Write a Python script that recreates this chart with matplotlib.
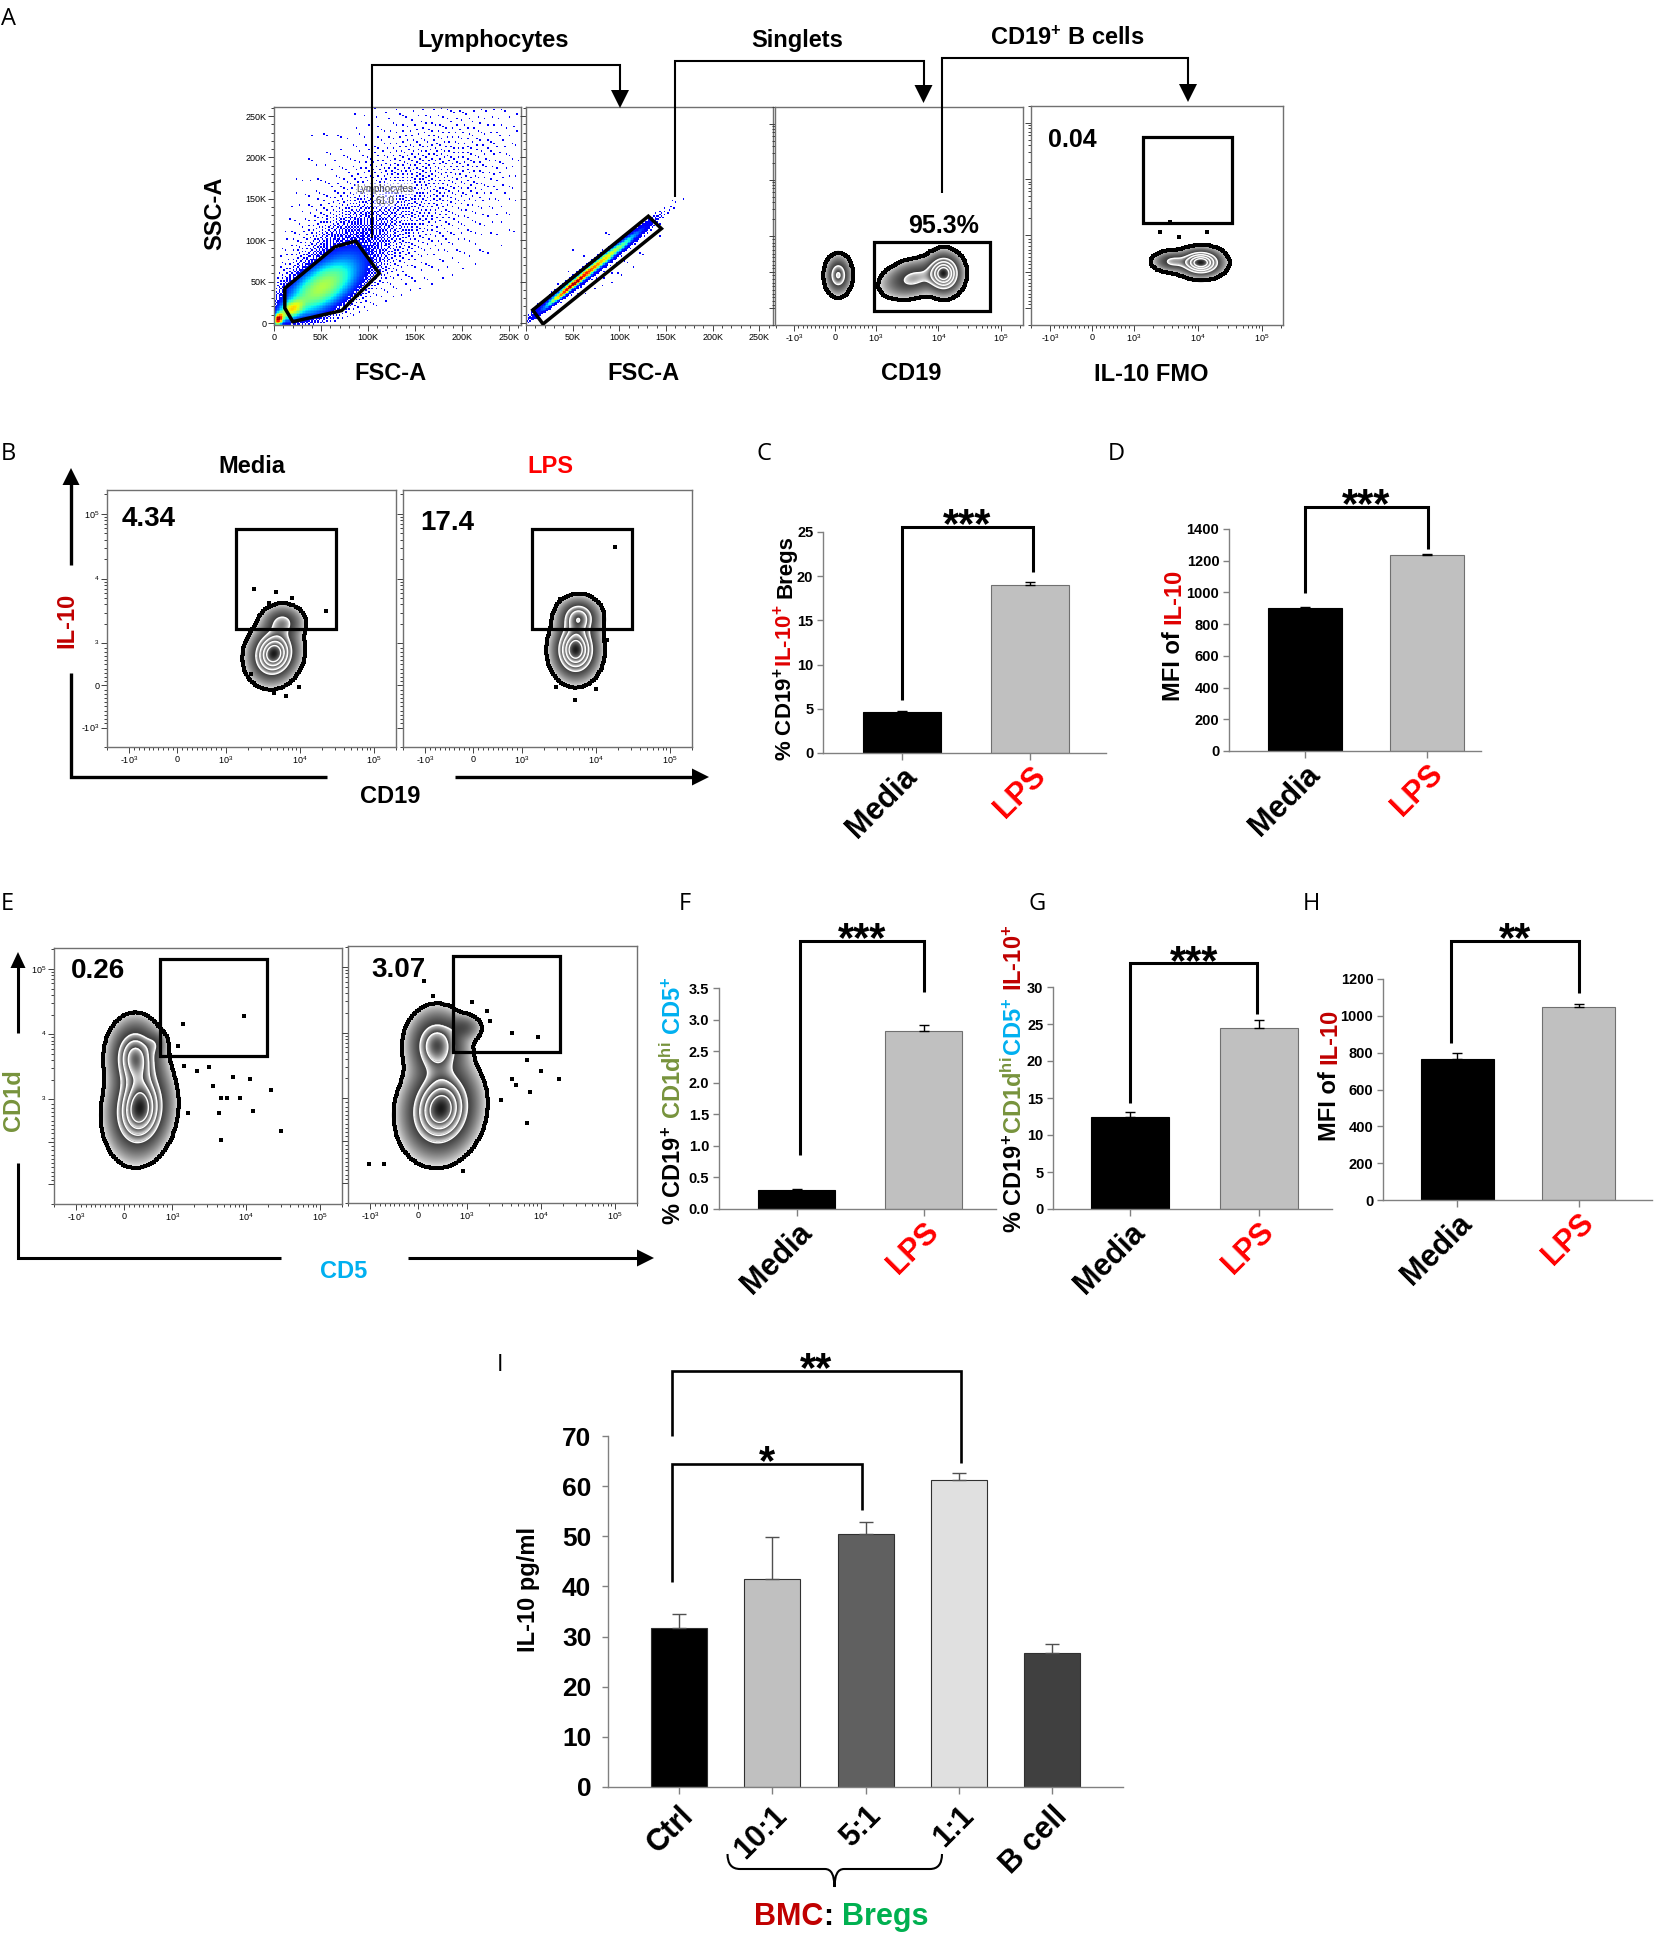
import numpy as np
import matplotlib
matplotlib.use('Agg')
import matplotlib.pyplot as plt
from matplotlib import font_manager as fm
from matplotlib.lines import Line2D
from matplotlib.patches import Polygon, Rectangle, PathPatch
from matplotlib.path import Path
from matplotlib.transforms import IdentityTransform, ScaledTranslation

W, H, DPI = 1654, 1943, 100

_names = {f.name for f in fm.fontManager.ttflist}
SANS = 'Liberation Sans' if 'Liberation Sans' in _names else 'DejaVu Sans'
NARROW = 'Liberation Sans Narrow' if 'Liberation Sans Narrow' in _names else SANS
LETTER = 'Open Sans' if 'Open Sans' in _names else SANS

plt.rcParams['font.family'] = [SANS, 'DejaVu Sans']
plt.rcParams['mathtext.fontset'] = 'custom'
plt.rcParams['mathtext.rm'] = SANS
plt.rcParams['mathtext.it'] = SANS + ':italic'
plt.rcParams['mathtext.bf'] = SANS + ':bold'

RED_LPS = '#ff0000'
RED_IL = '#e00000'
DARKRED = '#c00000'
GREEN = '#77933c'
CYAN = '#00b0f0'
GREEN_B = '#00b050'

# ======================= DATA =======================
# Bar panels
groups_2 = ['Media', 'LPS']
c_values = [4.6, 19.0]          # % CD19+IL-10+ Bregs
c_errors = [0.15, 0.3]
d_values = [902, 1236]          # MFI of IL-10
d_errors = [8, 6]
f_values = [0.30, 2.82]         # % CD19+ CD1dhi CD5+
f_errors = [0.02, 0.09]
g_values = [12.5, 24.5]         # % CD19+CD1dhiCD5+ IL-10+
g_errors = [0.6, 1.0]
h_values = [767, 1050]          # MFI of IL-10
h_errors = [33, 13]
i_groups = ['Ctrl', '10:1', '5:1', '1:1', 'B cell']
i_values = [31.7, 41.5, 50.4, 61.2, 26.8]   # IL-10 pg/ml
i_errors = [2.9, 8.4, 2.4, 1.5, 1.8]

# Gate frequencies
a_lymph_pct = '61.0'
a_cd19_pct = '95.3%'
a_fmo_pct = '0.04'
b_pcts = ['4.34', '17.4']
e_pcts = ['0.26', '3.07']

# Scatter populations, FSC/SSC in K units: (cx, cy, sx, sy, rho, weight)
a1_pops = [(4, 4, 3, 4, 0.3, 3.0), (18, 16, 8, 7, 0.5, 1.2), (50, 42, 22, 20, 0.6, 1.0),
           (75, 80, 35, 40, 0.55, 0.10), (150, 160, 65, 65, 0.4, 0.025)]
a2_pops = [(72, 67, 28, 25, 0.985, 1.0), (45, 41, 15, 14, 0.985, 0.9),
           (105, 96, 12, 11, 0.98, 0.1), (80, 62, 35, 30, 0.7, 0.004)]
a1_gate_fsc = [11.5, 64.8, 87, 112, 72, 20, 11.5]
a1_gate_ssc = [41.9, 92, 99, 60, 15, 1.6, 18]
a2_gate_fsc = [7.2, 131, 145, 18.2]
a2_gate_ssc = [15.7, 129, 114, -1.2]

# Fluorescence populations in biexponential display units: (cx, cy, sx, sy, rho, weight)
a3_pops = [(0.05, -0.06, 0.10, 0.17, 0.0, 0.55), (1.74, -0.03, 0.14, 0.18, 0.0, 1.0),
           (1.25, -0.12, 0.25, 0.17, 0.3, 0.4)]
a3_gate = (0.62, 2.48, -0.70, 0.54)
a4_pops = [(1.70, 0.16, 0.17, 0.12, 0.0, 1.0), (1.25, 0.18, 0.15, 0.09, 0.0, 0.35)]
a4_gate = (0.80, 2.19, 0.86, 2.39)
a4_out_x = [1.06, 1.36, 1.80, 1.22]
a4_out_y = [0.70, 0.61, 0.70, 0.89]

b1_pops = [(1.30, 0.49, 0.16, 0.21, 0.1, 1.0), (1.42, 0.98, 0.14, 0.13, 0.0, 0.35)]
b2_pops = [(1.38, 0.55, 0.15, 0.22, 0.0, 1.0), (1.42, 1.05, 0.14, 0.15, 0.0, 0.6)]
b_gate = (0.79, 2.14, 0.87, 2.42)
b1_out_x = [1.03, 1.33, 1.55, 2.0, 1.31, 1.46, 0.99, 1.64, 1.72, 1.24]
b1_out_y = [1.49, 1.45, 1.35, 1.15, -0.11, -0.17, 0.17, -0.03, 0.6, 1.27]
b2_out_x = [1.91, 1.37, 1.81, 1.66, 1.11, 1.17]
b2_out_y = [2.14, -0.23, 0.71, -0.05, -0.02, 1.33]

e1_pops = [(0.21, 0.50, 0.20, 0.34, 0.1, 1.0), (0.15, 1.30, 0.17, 0.27, 0.0, 0.75),
           (0.42, 1.5, 0.08, 0.1, 0.0, 0.15)]
e2_pops = [(0.30, 0.48, 0.24, 0.34, 0.1, 1.0), (0.25, 1.45, 0.19, 0.26, 0.0, 0.65),
           (0.62, 1.72, 0.12, 0.1, 0.0, 0.2)]
e1_gate = (0.49, 1.93, 1.32, 2.80)
e2_gate = (0.47, 1.91, 1.36, 2.82)
e1_out_x = [0.80, 1.63, 0.81, 0.98, 1.15, 1.48, 1.70, 1.99, 1.21, 1.31, 1.39, 1.57, 0.86, 1.28, 1.74, 2.12, 1.31, 0.73]
e1_out_y = [1.80, 1.93, 1.17, 1.08, 1.14, 1.00, 0.97, 0.80, 0.85, 0.67, 0.68, 0.68, 0.44, 0.44, 0.47, 0.17, 0.03, 1.47]
e2_out_x = [0.08, 0.20, 0.72, 0.93, 1.26, 1.62, 1.47, 1.65, 1.90, 1.26, 1.32, 1.50, 1.47, 1.11, -0.67, -0.46, 0.60, 0.96]
e2_out_y = [2.44, 2.21, 2.12, 1.98, 1.65, 1.58, 1.23, 1.06, 0.94, 0.94, 0.85, 0.74, 0.27, 0.62, -0.36, -0.36, -0.47, 1.83]

# ======================= HELPERS =======================
fig = plt.figure(figsize=(W / DPI, H / DPI), dpi=DPI)
fig.patch.set_facecolor('white')


def ax_px(x0, y0, x1, y1):
    return fig.add_axes([x0 / W, 1 - y1 / H, (x1 - x0) / W, (y1 - y0) / H])


def P(x, y):
    return (x / W, 1 - y / H)


def ftext(x, y, s, **kw):
    kw.setdefault('ha', 'center')
    kw.setdefault('va', 'baseline')
    return fig.text(x / W, 1 - y / H, s, **kw)


def fline(pts, lw=1.5, color='black'):
    fig.add_artist(Line2D([p[0] / W for p in pts], [1 - p[1] / H for p in pts], lw=lw, color=color,
                          transform=fig.transFigure, solid_joinstyle='miter', solid_capstyle='butt'))


def fhead(x, y, direction, L=17, Wd=17):
    if direction == 'down':
        pts = [(x - Wd / 2, y - L), (x + Wd / 2, y - L), (x, y)]
    elif direction == 'up':
        pts = [(x - Wd / 2, y + L), (x + Wd / 2, y + L), (x, y)]
    else:
        pts = [(x - L, y - Wd / 2), (x - L, y + Wd / 2), (x, y)]
    fig.add_artist(Polygon([P(*p) for p in pts], closed=True, facecolor='black', edgecolor='none',
                           transform=fig.transFigure))


def rich(x, y, pieces, size, rotation=0, weight='bold'):
    """x,y pixel position (from top) of baseline centre."""
    r = fig.canvas.get_renderer()
    items = []
    for s, col in pieces:
        if col is None:
            items.append((None, float(s) * size * DPI / 72.0))
            continue
        t = fig.text(0, 0, s, color=col, fontsize=size, fontweight=weight, rotation=rotation,
                     rotation_mode='anchor', ha='left', va='baseline', transform=IdentityTransform())
        bb = t.get_window_extent(renderer=r)
        items.append((t, bb.height if rotation == 90 else bb.width))
    total = sum(L for _, L in items)
    X, Y = x, H - y
    cur = (Y - total / 2) if rotation == 90 else (X - total / 2)
    for t, L in items:
        if t is not None:
            t.set_position((X, cur) if rotation == 90 else (cur, Y))
        cur += L


def gauss_mix(X, Y, pops):
    Z = np.zeros_like(X)
    for cx, cy, sx, sy, rho, w in pops:
        dx = (X - cx) / sx
        dy = (Y - cy) / sy
        Z += w * np.exp(-(dx * dx - 2 * rho * dx * dy + dy * dy) / (2 * (1 - rho * rho)))
    return Z


LTH, LSC = 1000.0, 0.65


def biex(v):
    v = np.asarray(v, float)
    a = np.abs(v)
    return np.where(a <= LTH, v / LTH * LSC, np.sign(v) * (LSC + np.log10(np.maximum(a, 1e-9) / LTH)))


DEC_MAJOR = [-1e3, 0, 1e3, 1e4, 1e5]
DEC_MINOR = ([-2e3] + list(np.arange(-900, 0, 100)) + list(np.arange(100, 1000, 100)) +
             list(np.arange(2e3, 1e4, 1e3)) + list(np.arange(2e4, 1e5, 1e4)) + [2e5])
BIEX_LABELS = ['-10$^3$', '0', '10$^3$', '10$^4$', '10$^5$']


def flow_axes(rect):
    ax = ax_px(*rect)
    ax.set_facecolor('white')
    for s in ax.spines.values():
        s.set_color('#707070')
        s.set_linewidth(1.0)
    ax.tick_params(which='both', direction='out', color='#404040', width=0.7, labelsize=6.5, pad=1.5)
    ax.tick_params(which='major', length=4)
    ax.tick_params(which='minor', length=2)
    return ax


def biex_axis(ax, axis, labels):
    maj = biex(DEC_MAJOR)
    mnr = biex(DEC_MINOR)
    if axis == 'x':
        ax.set_xticks(maj)
        ax.set_xticks(mnr, minor=True)
        ax.set_xticklabels(labels)
    else:
        ax.set_yticks(maj)
        ax.set_yticks(mnr, minor=True)
        ax.set_yticklabels(labels)


ZLEV = np.array([0.03, 0.32, 0.5, 0.68, 0.84])


def zebra(ax, xl, yl, pops):
    n = 500
    xs = np.linspace(xl[0], xl[1], n)
    ys = np.linspace(yl[0], yl[1], n)
    X, Y = np.meshgrid(xs, ys)
    Z = gauss_mix(X, Y, pops)
    Z = Z / Z.max()
    lv = ZLEV
    idx = np.searchsorted(lv, Z, side='right')
    lo = np.where(idx > 0, lv[np.clip(idx - 1, 0, len(lv) - 1)], 1e-6)
    hi = np.where(idx < len(lv), lv[np.clip(idx, 0, len(lv) - 1)], 1.0)
    f = np.clip(np.log(np.maximum(Z, 1e-9) / lo) / np.log(hi / lo), 0, 1)
    gray = 0.95 - 0.72 * f ** 0.9
    gray = np.where(idx == len(lv), 0.55 - 0.45 * f, gray)
    rgba = np.ones((n, n, 4))
    rgba[..., 0] = gray
    rgba[..., 1] = gray
    rgba[..., 2] = gray
    rgba[..., 3] = (idx > 0).astype(float)
    ax.imshow(rgba, extent=(xl[0], xl[1], yl[0], yl[1]), origin='lower', aspect='auto',
              interpolation='bilinear', zorder=1)
    ax.contour(X, Y, Z, levels=lv[1:], colors='white', linewidths=1.0, zorder=2)
    cs = ax.contour(X, Y, Z, levels=[lv[0]], colors='black', linewidths=2.4, zorder=3)
    for p in cs.get_paths():
        v = p.vertices
        if len(v):
            ax.plot(v[::6, 0], v[::6, 1], 's', color='black', ms=2.6, mew=0, zorder=3)
    ax.set_xlim(xl)
    ax.set_ylim(yl)


def fs_dither(p):
    q = p.astype(float).copy()
    ny, nx = q.shape
    out = np.zeros((ny, nx), bool)
    for j in range(ny):
        row = q[j]
        nxt = q[j + 1] if j + 1 < ny else None
        for i in range(nx):
            old = row[i]
            new = 1.0 if old >= 0.5 else 0.0
            out[j, i] = new > 0
            err = old - new
            if i + 1 < nx:
                row[i + 1] += err * 0.4375
            if nxt is not None:
                if i > 0:
                    nxt[i - 1] += err * 0.1875
                nxt[i] += err * 0.3125
                if i + 1 < nx:
                    nxt[i + 1] += err * 0.0625
    return out


def dotplot(ax, xl, yl, pops, nx, ny, pscale, zmin, gpow):
    xs = np.linspace(xl[0], xl[1], nx)
    ys = np.linspace(yl[0], yl[1], ny)
    X, Y = np.meshgrid(xs, ys)
    Z = gauss_mix(X, Y, pops)
    Z = Z / Z.max()
    p = np.clip(Z / pscale, 0, 1)
    show = fs_dither(p)
    g = np.clip(np.log(np.maximum(Z, 1e-12) / zmin) / np.log(1 / zmin), 0, 1)
    rgba = plt.cm.jet(0.11 + 0.86 * g ** gpow)
    rgba[..., 3] = show.astype(float)
    ax.imshow(rgba, extent=(xl[0], xl[1], yl[0], yl[1]), origin='lower', aspect='auto',
              interpolation='nearest', zorder=1)
    ax.set_xlim(xl)
    ax.set_ylim(yl)


def gate_rect(ax, g, lw=2.3):
    x0, x1, y0, y1 = g
    ax.add_patch(Rectangle((x0, y0), x1 - x0, y1 - y0, fill=False, ec='black', lw=lw, zorder=4))


def bar_panel(rect, values, errors, names, name_colors, ylim, yticks, yfmt, xlim, width,
              colors, edges, tick_size, tick_family, name_size, ecolor='black', capsize=3.5,
              ytick_pad=3, name_pad=1, name_dx=3):
    ax = ax_px(*rect)
    x = np.arange(len(values))
    ax.bar(x, values, width=width, color=colors, edgecolor=edges, linewidth=0.8, zorder=2)
    ax.errorbar(x, values, yerr=[np.zeros(len(errors)), errors], fmt='none', ecolor=ecolor,
                elinewidth=1.0, capsize=capsize, capthick=1.0, zorder=3)
    ax.set_xlim(*xlim)
    ax.set_ylim(*ylim)
    for s in ['top', 'right']:
        ax.spines[s].set_visible(False)
    for s in ['left', 'bottom']:
        ax.spines[s].set_color('#808080')
        ax.spines[s].set_linewidth(1.0)
    ax.set_yticks(yticks)
    ax.set_yticklabels([yfmt.format(v) for v in yticks], fontsize=tick_size, fontweight='bold',
                       family=tick_family)
    ax.set_xticks(x)
    ax.set_xticklabels(names, rotation=45, ha='right', rotation_mode='anchor', fontsize=name_size,
                       fontweight='bold')
    for lab, c in zip(ax.get_xticklabels(), name_colors):
        lab.set_color(c)
        lab.set_transform(lab.get_transform() + ScaledTranslation(name_dx / DPI, 0, fig.dpi_scale_trans))
    ax.tick_params(axis='y', direction='out', color='#808080', length=4, width=1, pad=ytick_pad)
    ax.tick_params(axis='x', direction='out', color='#808080', length=5, width=1, pad=name_pad)
    ax.set_facecolor('none')
    return ax


def bracket(ax, x0, x1, y0, ytop, y1, stars, lw=2.2, size=30, dy=-7.5):
    ax.plot([x0, x0, x1, x1], [y0, ytop, ytop, y1], color='black', lw=lw, clip_on=False,
            solid_joinstyle='miter', solid_capstyle='butt', zorder=5)
    ax.annotate(stars, xy=((x0 + x1) / 2, ytop), xytext=(0, dy), textcoords='offset points',
                ha='center', va='baseline', fontsize=size, fontweight='bold', annotation_clip=False)


def letter(x, y, s):
    ftext(x, y, s, ha='left', fontsize=17, family=LETTER, color='black')


TICK_FS = 10.5

# ======================= PANEL A =======================
letter(1, 25, 'A')
a1 = flow_axes((274, 107, 521, 325))
dotplot(a1, (0, 262.8), (-2.4, 260.9), a1_pops, 160, 141, 0.05, 0.02, 2.0)
a1.add_patch(Polygon(list(zip(a1_gate_fsc, a1_gate_ssc)), closed=True, fill=False, ec='black', lw=2.5, zorder=4))
ticksK = [0, 50, 100, 150, 200, 250]
labK = ['0', '50K', '100K', '150K', '200K', '250K']
a1.set_xticks(ticksK); a1.set_xticklabels(labK)
a1.set_yticks(ticksK); a1.set_yticklabels(labK)
a1.set_xticks(np.arange(10, 261, 10), minor=True)
a1.set_yticks(np.arange(10, 261, 10), minor=True)
lbox = dict(boxstyle='square,pad=0.1', fc='white', ec='none', alpha=0.6)
a1.text(118, 162, 'Lymphocytes', ha='center', va='center', fontsize=7, color='#444444', zorder=5, bbox=lbox)
a1.text(118, 147, a_lymph_pct, ha='center', va='center', fontsize=7, color='#444444', zorder=5, bbox=lbox)

a2 = flow_axes((526, 107, 773, 325))
dotplot(a2, (0, 264.5), (-2.4, 260.9), a2_pops, 160, 141, 0.06, 0.05, 2.5)
a2.add_patch(Polygon(list(zip(a2_gate_fsc, a2_gate_ssc)), closed=True, fill=False, ec='black', lw=2.5, zorder=4))
a2.set_xticks(ticksK); a2.set_xticklabels(labK)
a2.set_yticks(ticksK); a2.set_yticklabels([])
a2.set_xticks(np.arange(10, 261, 10), minor=True)
a2.set_yticks(np.arange(10, 261, 10), minor=True)

a3 = flow_axes((775, 107, 1023, 325))
zebra(a3, (-0.96, 3.0), (-0.9, 2.93), a3_pops)
gate_rect(a3, a3_gate)
biex_axis(a3, 'x', BIEX_LABELS)
biex_axis(a3, 'y', [''] * 5)

a4 = flow_axes((1031, 106, 1283, 325))
zebra(a4, (-0.95, 2.98), (-0.9, 2.93), a4_pops)
gate_rect(a4, a4_gate)
a4.plot(a4_out_x, a4_out_y, 's', color='black', ms=2.6, mew=0, zorder=4)
biex_axis(a4, 'x', BIEX_LABELS)
biex_axis(a4, 'y', [''] * 5)

ftext(493, 47, 'Lymphocytes', fontsize=17, fontweight='bold')
ftext(797, 47, 'Singlets', fontsize=17, fontweight='bold')
ftext(1067, 45, 'CD19$^{\\mathbf{+}}$ B cells', fontsize=17, fontweight='bold')
fline([(372, 238), (372, 65), (620, 65), (620, 92)], lw=1.5)
fhead(620, 108, 'down', 18, 18)
fline([(675, 197), (675, 61), (923.5, 61), (923.5, 88)], lw=1.5)
fhead(923.5, 103, 'down', 18, 18)
fline([(941.5, 193), (941.5, 58), (1188, 58), (1188, 86)], lw=1.5)
fhead(1188, 102, 'down', 18, 18)
rich(221, 213, [('SSC-A', 'black')], 17, rotation=90)
ftext(390, 380, 'FSC-A', fontsize=17, fontweight='bold')
ftext(643, 380, 'FSC-A', fontsize=17, fontweight='bold')
ftext(911, 380, 'CD19', fontsize=17, fontweight='bold')
ftext(1151, 381, 'IL-10 FMO', fontsize=17, fontweight='bold')
ftext(944, 233, a_cd19_pct, fontsize=18, fontweight='bold')
ftext(1072, 147, a_fmo_pct, fontsize=18, fontweight='bold')

# ======================= PANEL B =======================
letter(1, 460, 'B')
B_XL, B_YL = (-0.95, 2.92), (-0.92, 3.02)
b1 = flow_axes((107, 490, 396, 747))
zebra(b1, B_XL, B_YL, b1_pops)
gate_rect(b1, b_gate)
b1.plot(b1_out_x, b1_out_y, 's', color='black', ms=2.8, mew=0, zorder=4)
biex_axis(b1, 'x', BIEX_LABELS)
biex_axis(b1, 'y', ['-10$^3$', '0', '$^3$', '$^4$', '10$^5$'])
b2 = flow_axes((403, 490, 692, 747))
zebra(b2, B_XL, B_YL, b2_pops)
gate_rect(b2, b_gate)
b2.plot(b2_out_x, b2_out_y, 's', color='black', ms=2.8, mew=0, zorder=4)
biex_axis(b2, 'x', BIEX_LABELS)
biex_axis(b2, 'y', [''] * 5)
ftext(252, 473, 'Media', fontsize=17, fontweight='bold')
ftext(550, 473, 'LPS', fontsize=17, fontweight='bold', color=RED_LPS)
ftext(149, 526, b_pcts[0], fontsize=20, fontweight='bold')
ftext(447, 530, b_pcts[1], fontsize=20, fontweight='bold')
fline([(71, 565), (71, 482)], lw=2.4)
fhead(71, 468, 'up', 17, 17)
fline([(71, 673), (71, 777), (327, 777)], lw=2.4)
fline([(455, 777), (694, 777)], lw=2.4)
fhead(709, 777, 'right', 17, 17)
rich(73, 620, [('IL-10', DARKRED)], 17, rotation=90)
ftext(390, 803, 'CD19', fontsize=17, fontweight='bold')

# ======================= PANEL C / D =======================
letter(756, 460, 'C')
letter(1108, 460, 'D')
axc = bar_panel((823, 532, 1106, 753), c_values, c_errors, groups_2, ['black', RED_LPS], (0, 25),
                [0, 5, 10, 15, 20, 25], '{:d}', (-0.617, 1.59), 0.61, ['black', '#c0c0c0'],
                ['black', '#707070'], TICK_FS, NARROW, 22)
bracket(axc, 0.0, 1.02, 6.0, 25.6, 20.5, '***')
rich(792, 648, [('% CD19$^{\\mathbf{+}}$', 'black'), ('IL-10$^{\\mathbf{+}}$', RED_IL), ('0.28', None),
                ('Bregs', 'black')], 16, rotation=90)

axd = bar_panel((1229, 529, 1481, 751), d_values, d_errors, groups_2, ['black', RED_LPS], (0, 1400),
                list(range(0, 1401, 200)), '{:d}', (-0.62, 1.44), 0.6, ['black', '#c0c0c0'],
                ['black', '#707070'], TICK_FS, NARROW, 22)
bracket(axd, 0.0, 1.01, 996, 1539, 1274, '***')
rich(1180, 635, [('MFI of', 'black'), ('0.28', None), ('IL-10', RED_IL)], 17, rotation=90)

# ======================= PANEL E =======================
letter(1, 910, 'E')
E_XL, E_YL = (-0.95, 2.95), (-0.91, 2.97)
e1 = flow_axes((54, 948, 342, 1204))
zebra(e1, E_XL, E_YL, e1_pops)
gate_rect(e1, e1_gate)
e1.plot(e1_out_x, e1_out_y, 's', color='black', ms=2.8, mew=0, zorder=4)
biex_axis(e1, 'x', BIEX_LABELS)
biex_axis(e1, 'y', ['', '', '$^3$', '$^4$', '10$^5$'])
e2 = flow_axes((348, 946, 637, 1203))
zebra(e2, E_XL, E_YL, e2_pops)
gate_rect(e2, e2_gate)
e2.plot(e2_out_x, e2_out_y, 's', color='black', ms=2.8, mew=0, zorder=4)
biex_axis(e2, 'x', BIEX_LABELS)
biex_axis(e2, 'y', [''] * 5)
ftext(98, 978, e_pcts[0], fontsize=20, fontweight='bold')
ftext(398, 977, e_pcts[1], fontsize=20, fontweight='bold')
fline([(18, 1033), (18, 966)], lw=2.2)
fhead(18, 952, 'up', 16, 15)
fline([(18, 1163), (18, 1258), (281, 1258)], lw=2.2)
fline([(408, 1258), (640, 1258)], lw=2.2)
fhead(654, 1258, 'right', 17, 17)
rich(20, 1100, [('CD1d', GREEN)], 17, rotation=90)
ftext(344, 1278, 'CD5', fontsize=17, fontweight='bold', color=CYAN)

# ======================= PANEL F / G / H =======================
letter(679, 910, 'F')
letter(1028, 910, 'G')
letter(1303, 910, 'H')
axf = bar_panel((719, 988, 996, 1209), f_values, f_errors, groups_2, ['black', RED_LPS], (0, 3.5),
                [0, 0.5, 1.0, 1.5, 2.0, 2.5, 3.0, 3.5], '{:.1f}', (-0.61, 1.57), 0.6,
                ['black', '#c0c0c0'], ['black', '#707070'], TICK_FS, NARROW, 22)
bracket(axf, 0.03, 1.0, 0.855, 4.25, 3.44, '***')
rich(681, 1101, [('% CD19$^{\\mathbf{+}}$', 'black'), ('0.28', None), ('CD1d$^{\\mathbf{hi}}$', GREEN),
                 ('0.28', None), ('CD5$^{\\mathbf{+}}$', CYAN)], 17, rotation=90)

axg = bar_panel((1053, 987, 1332, 1209), g_values, g_errors, groups_2, ['black', RED_LPS], (0, 30),
                [0, 5, 10, 15, 20, 25, 30], '{:d}', (-0.6, 1.57), 0.61, ['black', '#c0c0c0'],
                ['black', '#707070'], TICK_FS, NARROW, 22)
bracket(axg, 0.0, 0.99, 14.3, 33.2, 26.4, '***')
rich(1022, 1079, [('% CD19$^{\\mathbf{+}}$', 'black'), ('CD1d$^{\\mathbf{hi}}$', GREEN),
                  ('CD5$^{\\mathbf{+}}$', CYAN), ('0.28', None), ('IL-10$^{\\mathbf{+}}$', DARKRED)],
     17, rotation=90)

axh = bar_panel((1383, 979, 1652, 1200), h_values, h_errors, groups_2, ['black', RED_LPS], (0, 1200),
                list(range(0, 1201, 200)), '{:d}', (-0.61, 1.6), 0.6, ['black', '#c0c0c0'],
                ['black', '#707070'], TICK_FS, NARROW, 22)
bracket(axh, -0.05, 1.0, 855, 1406, 1126, '**')
rich(1336, 1075, [('MFI of', 'black'), ('0.28', None), ('IL-10', DARKRED)], 17, rotation=90)

# ======================= PANEL I =======================
letter(497, 1371, 'I')
axi = bar_panel((608, 1436, 1123, 1787), i_values, i_errors, i_groups, ['black'] * 5, (0, 70),
                list(range(0, 71, 10)), '{:d}', (-0.756, 4.755), 0.6,
                ['black', '#c0c0c0', '#606060', '#e0e0e0', '#404040'], ['#303030'] * 5, 19, SANS, 22,
                ecolor='#505050', capsize=5, ytick_pad=8, name_pad=5, name_dx=7)
bracket(axi, -0.075, 3.02, 70.0, 83.0, 64.7, '**', lw=1.9)
bracket(axi, -0.075, 1.96, 40.9, 64.5, 55.3, '*', lw=1.9)
rich(535, 1590, [('IL-10 pg/ml', 'black')], 17, rotation=90)
brace = [(727.5, 1854), (727.5, 1869), (740, 1869), (825, 1869), (834.5, 1869), (834.5, 1887),
         (834.5, 1869), (844, 1869), (930, 1869), (942, 1869), (942, 1854)]
codes = [Path.MOVETO, Path.CURVE3, Path.CURVE3, Path.LINETO, Path.CURVE3, Path.CURVE3,
         Path.CURVE3, Path.CURVE3, Path.LINETO, Path.CURVE3, Path.CURVE3]
fig.add_artist(PathPatch(Path([P(*v) for v in brace], codes), fill=False, lw=1.5, ec='black',
                         transform=fig.transFigure))
rich(841, 1925, [('BMC', DARKRED), (':', 'black'), ('0.28', None), ('Bregs', GREEN_B)], 22)

fig.savefig('out.png', dpi=DPI, facecolor='white')
